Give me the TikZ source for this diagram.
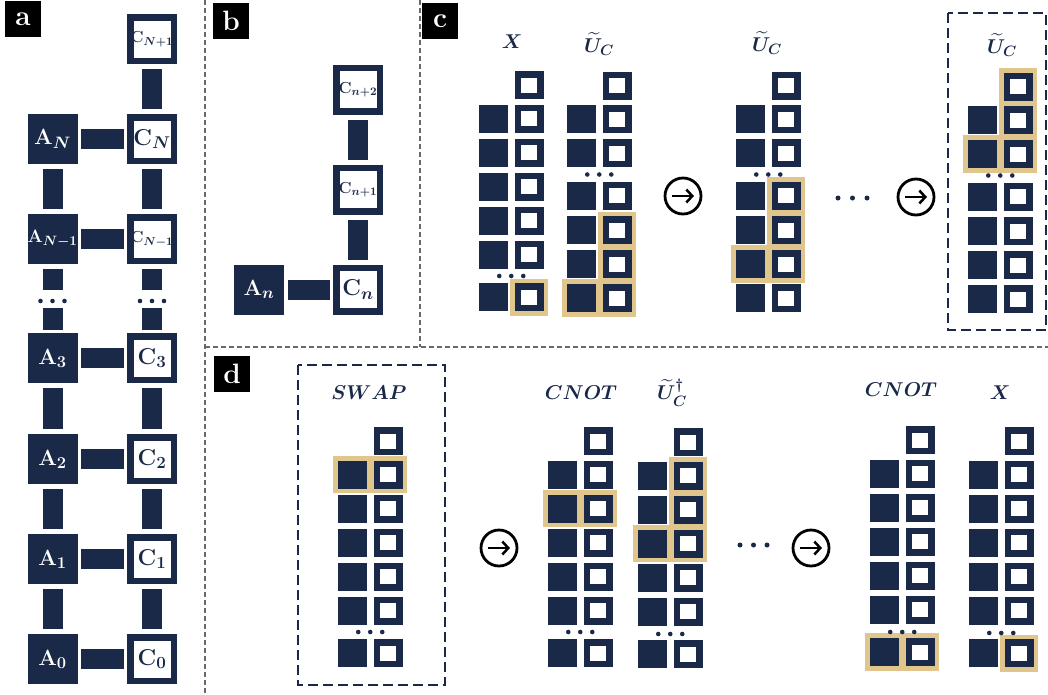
\documentclass[tikz,border=0pt]{standalone}
\usepackage{fix-cm}
\usepackage{amsmath,bm}
\usetikzlibrary{arrows.meta,fit,backgrounds}
\definecolor{navy}{RGB}{26,41,72}
\definecolor{gold}{RGB}{224,197,140}
\definecolor{rulegray}{RGB}{105,105,105}

% larger subscripts in the box labels
\DeclareMathSizes{16}{16}{11.5}{8}
\DeclareMathSizes{18}{18}{13.5}{10}
\DeclareMathSizes{20}{20}{15}{11}
\DeclareMathSizes{22}{22}{16.5}{12}
\DeclareMathSizes{23}{23}{17}{12}

% row offsets below the top cavity: five rows, gap, one row / two rows, gap, four rows
\newcommand{\rowsx}{1/33.5,2/67.5,3/101.5,4/135.5,5/169.5,6/212}
\newcommand{\rowsu}{1/33.5,2/67.5,3/110,4/144.5,5/178.5,6/212.5}

% register: name, x of ancilla cells, y of top cavity, row offsets, y offset of the dots
\newcommand{\qreg}[5]{%
	\node[qc] (#1c0) at (#2+35.5,#3) {};
	\foreach \k/\dy in #4{
		\node[qa] (#1a\k) at (#2,#3+\dy) {};
		\node[qc] (#1c\k) at (#2+35.5,#3+\dy) {};
	}
	\foreach \dx in {-12,0,12}
		\fill[navy] (#2+17.75+\dx,#3+#5) circle (2.3pt);
}

\begin{document}
\begin{tikzpicture}[x=1pt,y=-1pt,
	anc/.style={fill=navy,minimum size=50pt,inner sep=0pt,text=white,font=\fontsize{22}{24}\selectfont},
	cav/.style={draw=navy,line width=6.5pt,fill=white,minimum size=43.5pt,inner sep=0pt,text=navy,font=\fontsize{23}{25}\selectfont},
	smalltxt/.style={font=\fontsize{16}{18}\selectfont},
	bond/.style={navy,line width=20pt,shorten <=5pt,shorten >=5pt},
	hbond/.style={navy,line width=20pt,shorten <=3.5pt,shorten >=3.5pt},
	qa/.style={fill=navy,minimum width=29pt,minimum height=28pt,inner sep=0pt},
	qc/.style={draw=navy,line width=6.5pt,fill=white,minimum width=22.5pt,minimum height=21.5pt,inner sep=0pt},
	hilite/.style={fill=gold,inner sep=4.5pt},
	gate/.style={text=navy,font=\fontsize{20}{22}\selectfont},
	panel/.style={fill=black,text=white,minimum size=36pt,inner sep=0pt,font=\fontsize{28}{30}\selectfont\bfseries},
	split/.style={rulegray,line width=1.2pt,dash pattern=on 5pt off 3pt},
	dashbox/.style={navy,line width=2.4pt,dash pattern=on 10pt off 5pt},
	nextop/.style={circle,draw=black,line width=2.8pt,minimum size=36pt,inner sep=0pt},
	arrowline/.style={line width=2.5pt,-{Straight Barb[length=6pt,width=13pt]}}]

	\useasboundingbox (0,0) rectangle (1048,694);

	% panel separators
	\draw[split]	(205,0) -- (205,694);
	\draw[split]	(420,0) -- (420,347);
	\draw[split]	(205,347) -- (1048,347);

	\node[panel] (la) at (23,19)   {a};
	\node[panel] (lb) at (231,21)  {b};
	\node[panel] (lc) at (440,21)  {c};
	\node[panel] (ld) at (232,374) {d};

	% a: ladder of ancillas and cavities
	\node[cav,smalltxt]	(CNp) at (152,39)    {\textbf{C}$_{\bm{N+1}}$};
	\node[anc]		(AN)  at (52.5,139)  {\textbf{A}$_{\bm{N}}$};
	\node[cav]		(CN)  at (152,139)   {\textbf{C}$_{\bm{N}}$};
	\node[anc,font=\fontsize{18}{20}\selectfont]	(ANm) at (52.5,239) {\textbf{A}$_{\bm{N-1}}$};
	\node[cav,smalltxt]	(CNm) at (152,239)   {\textbf{C}$_{\bm{N-1}}$};
	\node[anc]		(A3)  at (52.5,358)  {\textbf{A}$_{\bm{3}}$};
	\node[cav]		(C3)  at (152,358)   {\textbf{C}$_{\bm{3}}$};
	\node[anc]		(A2)  at (52.5,459)  {\textbf{A}$_{\bm{2}}$};
	\node[cav]		(C2)  at (152,459)   {\textbf{C}$_{\bm{2}}$};
	\node[anc]		(A1)  at (52.5,559)  {\textbf{A}$_{\bm{1}}$};
	\node[cav]		(C1)  at (152,559)   {\textbf{C}$_{\bm{1}}$};
	\node[anc]		(A0)  at (52.5,659)  {\textbf{A}$_{\bm{0}}$};
	\node[cav]		(C0)  at (152,659)   {\textbf{C}$_{\bm{0}}$};
	\coordinate		(dA)  at (52.5,301);
	\coordinate		(dC)  at (152,301);

	\draw[bond]		(CNp) -- (CN);
	\draw[bond]		(AN) -- (ANm);
	\draw[bond]		(CN) -- (CNm);
	\draw[bond,shorten >=11pt]		(ANm) -- (dA);
	\draw[bond,shorten >=11pt]		(CNm) -- (dC);
	\draw[bond,shorten <=7pt,shorten >=3pt]	(dA) -- (A3);
	\draw[bond,shorten <=7pt,shorten >=3pt]	(dC) -- (C3);
	\draw[bond]		(A3) -- (A2);
	\draw[bond]		(C3) -- (C2);
	\draw[bond]		(A2) -- (A1);
	\draw[bond]		(C2) -- (C1);
	\draw[bond]		(A1) -- (A0);
	\draw[bond]		(C1) -- (C0);
	\foreach \a/\c in {AN/CN,ANm/CNm,A3/C3,A2/C2,A1/C1,A0/C0}
		\draw[hbond]	(\a) -- (\c);
	\foreach \dx in {-12,0,12}{
		\fill[navy] (dA) ++(\dx,0) circle (2.3pt);
		\fill[navy] (dC) ++(\dx,0) circle (2.3pt);
	}

	% b: one ancilla with its cavities
	\node[anc]		(An)  at (259,289.5) {\textbf{A}$_{\bm{n}}$};
	\node[cav]		(Cn)  at (358,289.5) {\textbf{C}$_{\bm{n}}$};
	\node[cav,smalltxt]	(Cn1) at (358,189.5) {\textbf{C}$_{\bm{n+1}}$};
	\node[cav,smalltxt]	(Cn2) at (358,89.5)  {\textbf{C}$_{\bm{n+2}}$};
	\draw[hbond]	(An) -- (Cn);
	\draw[bond]		(Cn) -- (Cn1);
	\draw[bond]		(Cn1) -- (Cn2);

	% c: X, then U_C sweeping upwards
	\qreg{cX}{493.5}{85}{\rowsx}{191}
	\qreg{cU}{581.5}{85.5}{\rowsu}{89}
	\qreg{cV}{750.5}{85.5}{\rowsu}{89}
	\qreg{cW}{982.5}{86.5}{\rowsu}{89}

	\node[gate] (tX)  at (512,42)  {$\bm{X}$};
	\node[gate] (tU)  at (599,44)  {$\bm{\widetilde{U}_C}$};
	\node[gate] (tV)  at (767,43)  {$\bm{\widetilde{U}_C}$};
	\node[gate] (tW)  at (1002,45) {$\bm{\widetilde{U}_C}$};

	\node[nextop] (o1) at (683,196) {};
	\node[nextop] (o2) at (916,197) {};
	\foreach \o in {o1,o2}
		\draw[arrowline] ([xshift=-11pt]\o.center) -- ([xshift=11pt]\o.center);
	\foreach \x in {838,852.5,867}
		\fill[navy] (\x,198) circle (2.5pt);
	\draw[dashbox]	(948,13) rectangle (1046,330);

	% d: SWAP, CNOT, inverse U_C, then CNOT and X
	\qreg{dS}{352.5}{441}{\rowsx}{191}
	\qreg{dC}{562.5}{441}{\rowsx}{191}
	\qreg{dU}{652.5}{442}{\rowsx}{192}
	\qreg{dD}{884.5}{440}{\rowsx}{192}
	\qreg{dX}{983.5}{441}{\rowsx}{192}

	\node[gate] (tS)  at (369,393) {$\bm{SWAP}$};
	\node[gate] (tC)  at (581,393) {$\bm{CNOT}$};
	\node[gate] (tUd) at (672,393) {$\bm{\widetilde{U}_C^{\dagger}}$};
	\node[gate] (tD)  at (901,390) {$\bm{CNOT}$};
	\node[gate] (tX2) at (1000,393) {$\bm{X}$};

	\node[nextop] (o3) at (499,548) {};
	\node[nextop] (o4) at (811,548) {};
	\foreach \o in {o3,o4}
		\draw[arrowline] ([xshift=-11pt]\o.center) -- ([xshift=11pt]\o.center);
	\foreach \x in {740,753.5,767}
		\fill[navy] (\x,545) circle (2.5pt);
	\draw[dashbox]	(298,365) rectangle (445,685);

	% highlighted cells
	\begin{scope}[on background layer]
		\node[hilite,fit=(cXc6)] {};
		\node[hilite,fit=(cUc4)(cUc6)] {};
		\node[hilite,fit=(cUa6)(cUc6)] {};
		\node[hilite,fit=(cVc3)(cVc5)] {};
		\node[hilite,fit=(cVa5)(cVc5)] {};
		\node[hilite,fit=(cWc0)(cWc2)] {};
		\node[hilite,fit=(cWa2)(cWc2)] {};
		\node[hilite,fit=(dSa1)(dSc1)] {};
		\node[hilite,fit=(dCa2)(dCc2)] {};
		\node[hilite,fit=(dUc1)(dUc3)] {};
		\node[hilite,fit=(dUa3)(dUc3)] {};
		\node[hilite,fit=(dDa6)(dDc6)] {};
		\node[hilite,fit=(dXc6)] {};
	\end{scope}

\end{tikzpicture}
\end{document}
